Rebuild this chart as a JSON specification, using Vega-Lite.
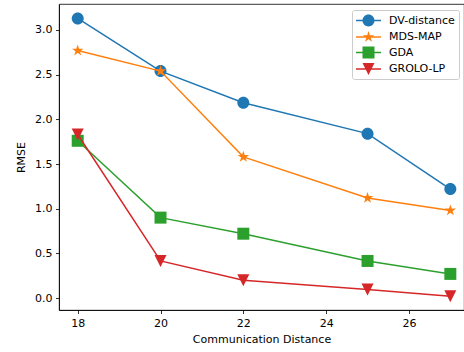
{
  "$schema": "https://vega.github.io/schema/vega-lite/v6.json",
  "width": 405,
  "height": 306,
  "autosize": {"type": "none"},
  "padding": {"left": 59, "top": 4, "right": 0, "bottom": 42},
  "background": "white",
  "config": {
    "font": "DejaVu Sans",
    "view": {"stroke": "black", "strokeWidth": 0.8},
    "axis": {
      "grid": false,
      "domainColor": "black",
      "domainWidth": 0.8,
      "tickColor": "black",
      "tickWidth": 0.8,
      "tickSize": 3.5,
      "labelFont": "DejaVu Sans",
      "labelFontSize": 11,
      "labelColor": "black",
      "labelPadding": 3.5,
      "titleFont": "DejaVu Sans",
      "titleFontSize": 11,
      "titleFontWeight": "normal",
      "titleColor": "black"
    }
  },
  "data": {
    "values": [
      {"d": 18, "rmse": 3.13, "method": "DV-distance"},
      {"d": 20, "rmse": 2.54, "method": "DV-distance"},
      {"d": 22, "rmse": 2.185, "method": "DV-distance"},
      {"d": 25, "rmse": 1.84, "method": "DV-distance"},
      {"d": 27, "rmse": 1.22, "method": "DV-distance"},
      {"d": 18, "rmse": 2.77, "method": "MDS-MAP"},
      {"d": 20, "rmse": 2.54, "method": "MDS-MAP"},
      {"d": 22, "rmse": 1.58, "method": "MDS-MAP"},
      {"d": 25, "rmse": 1.12, "method": "MDS-MAP"},
      {"d": 27, "rmse": 0.98, "method": "MDS-MAP"},
      {"d": 18, "rmse": 1.76, "method": "GDA"},
      {"d": 20, "rmse": 0.90, "method": "GDA"},
      {"d": 22, "rmse": 0.72, "method": "GDA"},
      {"d": 25, "rmse": 0.415, "method": "GDA"},
      {"d": 27, "rmse": 0.27, "method": "GDA"},
      {"d": 18, "rmse": 1.83, "method": "GROLO-LP"},
      {"d": 20, "rmse": 0.415, "method": "GROLO-LP"},
      {"d": 22, "rmse": 0.20, "method": "GROLO-LP"},
      {"d": 25, "rmse": 0.095, "method": "GROLO-LP"},
      {"d": 27, "rmse": 0.02, "method": "GROLO-LP"}
    ]
  },
  "encoding": {
    "x": {
      "field": "d",
      "type": "quantitative",
      "scale": {"domain": [17.548, 27.33], "nice": false, "zero": false},
      "axis": {"values": [18, 20, 22, 24, 26], "title": "Communication Distance", "titlePadding": 5}
    },
    "y": {
      "field": "rmse",
      "type": "quantitative",
      "scale": {"domain": [-0.134, 3.291], "nice": false, "zero": false},
      "axis": {"values": [0, 0.5, 1, 1.5, 2, 2.5, 3], "format": ".1f", "title": "RMSE", "titlePadding": 8}
    }
  },
  "layer": [
    {
      "transform": [{"filter": "datum.method === 'DV-distance'"}],
      "layer": [
        {"mark": {"type": "line", "color": "#1f77b4", "strokeWidth": 1.5}},
        {"mark": {"type": "point", "filled": true, "opacity": 1, "color": "#1f77b4", "strokeWidth": 0, "size": 144, "shape": "M1,0A1,1,0,1,1,-1,0A1,1,0,1,1,1,0Z"}}
      ]
    },
    {
      "transform": [{"filter": "datum.method === 'MDS-MAP'"}],
      "layer": [
        {"mark": {"type": "line", "color": "#ff7f0e", "strokeWidth": 1.5}},
        {"mark": {"type": "point", "filled": true, "opacity": 1, "color": "#ff7f0e", "strokeWidth": 0, "size": 144, "shape": "M0,-1L0.2245,-0.309L0.951,-0.309L0.363,0.118L0.588,0.809L0,0.382L-0.588,0.809L-0.363,0.118L-0.951,-0.309L-0.2245,-0.309Z"}}
      ]
    },
    {
      "transform": [{"filter": "datum.method === 'GDA'"}],
      "layer": [
        {"mark": {"type": "line", "color": "#2ca02c", "strokeWidth": 1.5}},
        {"mark": {"type": "point", "filled": true, "opacity": 1, "color": "#2ca02c", "strokeWidth": 0, "size": 144, "shape": "M-1,-1H1V1H-1Z"}}
      ]
    },
    {
      "transform": [{"filter": "datum.method === 'GROLO-LP'"}],
      "layer": [
        {"mark": {"type": "line", "color": "#d62728", "strokeWidth": 1.5}},
        {"mark": {"type": "point", "filled": true, "opacity": 1, "color": "#d62728", "strokeWidth": 0, "size": 144, "shape": "M-1,-1H1L0,1Z"}}
      ]
    },
    {
      "transform": [{"filter": "false"}],
      "mark": {"type": "point", "filled": true, "opacity": 1, "strokeWidth": 0},
      "encoding": {
        "color": {
          "field": "method",
          "type": "nominal",
          "scale": {"domain": ["DV-distance", "MDS-MAP", "GDA", "GROLO-LP"], "range": ["#1f77b4", "#ff7f0e", "#2ca02c", "#d62728"]},
          "legend": {
            "title": null,
            "orient": "none",
            "legendX": 293,
            "legendY": 6,
            "fillColor": "white",
            "strokeColor": "#cccccc",
            "cornerRadius": 2,
            "padding": 4,
            "symbolSize": 156,
            "symbolStrokeWidth": 0,
            "symbolOpacity": 1,
            "symbolOffset": 6,
            "labelFont": "DejaVu Sans",
            "labelFontSize": 11,
            "labelColor": "black",
            "labelOffset": 14,
            "rowPadding": 3.5
          }
        },
        "shape": {
          "field": "method",
          "type": "nominal",
          "scale": {
            "domain": ["DV-distance", "MDS-MAP", "GDA", "GROLO-LP"],
            "range": [
              "M-2,-0.12H2V0.12H-2ZM0.96,0A0.96,0.96,0,1,1,-0.96,0A0.96,0.96,0,1,1,0.96,0Z",
              "M-2,-0.12H2V0.12H-2ZM0,-0.96L0.2155,-0.2966L0.913,-0.297L0.3487,0.1133L0.564,0.777L0,0.367L-0.564,0.777L-0.3487,0.1133L-0.913,-0.297L-0.2155,-0.2966Z",
              "M-2,-0.12H2V0.12H-2ZM-0.96,-0.96H0.96V0.96H-0.96Z",
              "M-2,-0.12H2V0.12H-2ZM-0.96,-0.96H0.96L0,0.96Z"
            ]
          },
          "legend": {
            "title": null,
            "orient": "none",
            "legendX": 293,
            "legendY": 6,
            "fillColor": "white",
            "strokeColor": "#cccccc",
            "cornerRadius": 2,
            "padding": 4,
            "symbolSize": 156,
            "symbolStrokeWidth": 0,
            "symbolOpacity": 1,
            "symbolOffset": 6,
            "labelFont": "DejaVu Sans",
            "labelFontSize": 11,
            "labelColor": "black",
            "labelOffset": 14,
            "rowPadding": 3.5
          }
        }
      }
    }
  ]
}
